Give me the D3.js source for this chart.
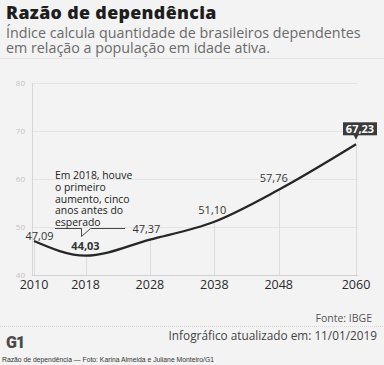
<!DOCTYPE html>
<html><head><meta charset="utf-8">
<script src="https://cdn.jsdelivr.net/npm/d3@7"></script>
<style>
html,body{margin:0;padding:0;background:#f3f3f3;}
svg{display:block;}
</style></head>
<body><svg id="c" width="384" height="365"></svg>
<script>
const years = [2010, 2018, 2028, 2038, 2048, 2060];
const values = [47.09, 44.03, 47.37, 51.10, 57.76, 67.23];
const valueLabels = ["47,09", "44,03", "47,37", "51,10", "57,76", "67,23"];
const yTicks = [40, 50, 60, 70, 80];
const noteLines = ["Em 2018, houve", "o primeiro", "aumento, cinco", "anos antes do", "esperado"];

const svg = d3.select("#c");
const font = "'Open Sans', sans-serif";
const x = d3.scaleLinear().domain([2010, 2060]).range([34, 356]);
const y = d3.scaleLinear().domain([40, 80]).range([275, 83]);

svg.append("rect").attr("width", 384).attr("height", 365).attr("fill", "#f3f3f3");

// Title
svg.append("text").attr("x", 6).attr("y", 19.3).text("Razão de dependência")
  .attr("font-family", font).attr("font-weight", 800).attr("font-size", 17.8)
  .attr("letter-spacing", 0.35).attr("fill", "#1e1e1e");
svg.append("text").attr("x", 6).attr("y", 37.5).text("Índice calcula quantidade de brasileiros dependentes")
  .attr("font-family", font).attr("font-size", 14.3).attr("fill", "#6a6a6a");
svg.append("text").attr("x", 6).attr("y", 52.5).text("em relação a população em idade ativa.")
  .attr("font-family", font).attr("font-size", 14.3).attr("fill", "#6a6a6a");
svg.append("line").attr("x1", 0).attr("x2", 384).attr("y1", 58.5).attr("y2", 58.5).attr("stroke", "#e6e6e6");

// Grid
const g = svg.append("g");
g.selectAll(".hg").data(yTicks.slice(1)).join("line")
  .attr("x1", 32).attr("x2", 358).attr("y1", d => Math.round(y(d)) + 0.5).attr("y2", d => Math.round(y(d)) + 0.5)
  .attr("stroke", "#e4e4e4");
g.selectAll(".vg").data(years).join("line")
  .attr("x1", d => Math.round(x(d)) + 0.5).attr("x2", d => Math.round(x(d)) + 0.5)
  .attr("y1", y(40)).attr("y2", (d, i) => y(values[i]))
  .attr("stroke", "#dcdcdc");
g.append("line").attr("x1", 32.5).attr("x2", 32.5).attr("y1", y(80)).attr("y2", y(40)).attr("stroke", "#d6d6d6");
g.append("line").attr("x1", 32).attr("x2", 358).attr("y1", y(40) + 0.5).attr("y2", y(40) + 0.5).attr("stroke", "#d0d0d0");

// Y tick labels
g.selectAll(".yt").data(yTicks).join("text")
  .attr("x", 25).attr("y", d => y(d) + 3).attr("text-anchor", "end")
  .attr("font-family", font).attr("font-size", 8).attr("fill", "#c4c4c4").text(d => d);

// X tick labels
g.selectAll(".xt").data(years).join("text")
  .attr("x", d => x(d)).attr("y", 289).attr("text-anchor", "middle")
  .attr("font-family", font).attr("font-size", 12.5).attr("fill", "#2a2a2a").text(d => d);

// Line
const pts = years.map((d, i) => [d, values[i]]);
svg.append("path").datum(pts)
  .attr("d", d3.line().x(d => x(d[0])).y(d => y(d[1])).curve(d3.curveMonotoneX))
  .attr("fill", "none").attr("stroke", "#262626").attr("stroke-width", 2.3);

// Value labels
const lab = [
  {dx: 5.5, dy: -1, w: 400},
  {dx: 0, dy: -6, w: 700},
  {dx: -3.5, dy: -6.5, w: 400},
  {dx: -2, dy: -8, w: 400},
  {dx: -5, dy: -8, w: 400}
];
lab.forEach((o, i) => {
  svg.append("text").attr("x", x(years[i]) + o.dx).attr("y", y(values[i]) + o.dy)
    .attr("text-anchor", "middle").attr("font-family", font).attr("font-size", 11)
    .attr("font-weight", o.w).attr("fill", "#333").text(valueLabels[i]);
});
// Highlighted last value
const lx = x(years[5]), ly = y(values[5]);
svg.append("rect").attr("x", lx - 13).attr("y", ly - 22).attr("width", 34).attr("height", 13).attr("fill", "#3a3a3a");
svg.append("path").attr("d", `M${lx-2.5},${ly-9.5}L${lx+2.5},${ly-9.5}L${lx},${ly-4.5}Z`).attr("fill", "#3a3a3a");
svg.append("text").attr("x", lx + 4).attr("y", ly - 11.5).attr("text-anchor", "middle")
  .attr("font-family", font).attr("font-size", 11).attr("font-weight", 700).attr("fill", "#fff").text(valueLabels[5]);

// Annotation
const ax = x(years[1]) - 4, ay = 228.5;
svg.append("path").attr("d", `M55,${ay}H${ax}V${ay+8}L${ax+9},${ay}H125`)
  .attr("fill", "none").attr("stroke", "#333").attr("stroke-width", 0.9);
noteLines.forEach((t, i) => {
  svg.append("text").attr("x", 55).attr("y", 179 + i * 11.8).attr("font-family", font)
    .attr("font-size", 10.4).attr("fill", "#222").text(t);
});

// Footer
svg.append("text").attr("x", 372).attr("y", 322).attr("text-anchor", "end")
  .attr("font-family", font).attr("font-size", 10.5).attr("fill", "#555").text("Fonte: IBGE");
svg.append("line").attr("x1", 0).attr("x2", 384).attr("y1", 326.5).attr("y2", 326.5)
  .attr("stroke", "#d8d8d8").attr("stroke-dasharray", "1,1");
svg.append("text").attr("x", 377).attr("y", 339.5).attr("text-anchor", "end")
  .attr("font-family", font).attr("font-size", 11.8).attr("fill", "#444").text("Infográfico atualizado em: 11/01/2019");
svg.append("text").attr("x", 6).attr("y", 347.5).attr("font-family", "Roboto, sans-serif")
  .attr("font-size", 16).attr("font-weight", 900).attr("fill", "#4a4a4a").attr("letter-spacing", -1).text("G1");
svg.append("text").attr("x", 2).attr("y", 362).attr("font-family", "Arial, 'Liberation Sans', sans-serif")
  .attr("font-size", 6.8).attr("fill", "#333").text("Razão de dependência — Foto: Karina Almeida e Juliane Monteiro/G1");
</script></body></html>
